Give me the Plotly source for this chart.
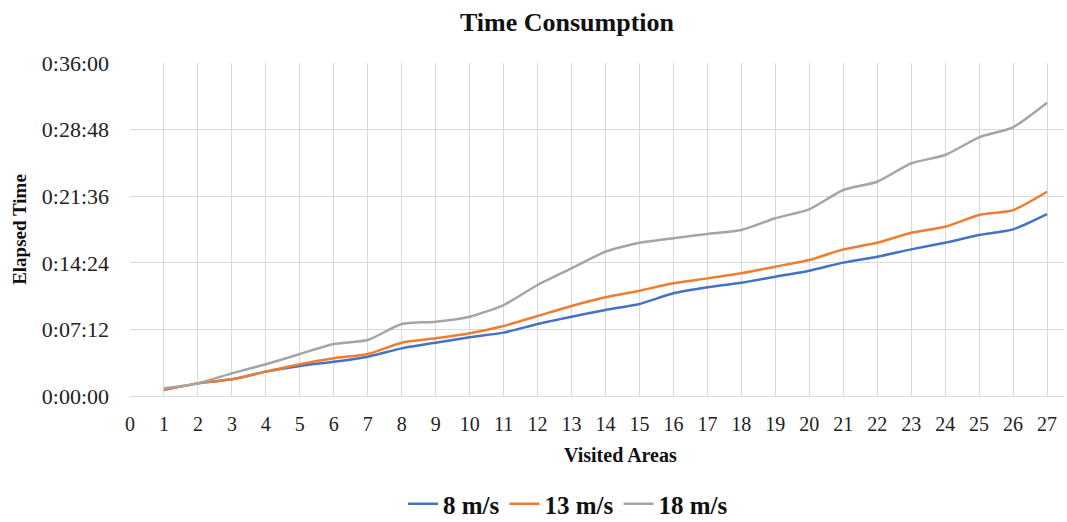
import plotly.graph_objects as go

areas = list(range(1, 28))
speed_8 = [39, 82, 108, 158, 195, 222, 255, 309, 346, 381, 411, 467, 514, 558, 597,
           666, 705, 735, 774, 813, 865, 903, 951, 994, 1044, 1081, 1180]
speed_13 = [39, 82, 108, 158, 206, 245, 272, 346, 374, 407, 454, 519, 584, 640, 683,
            731, 763, 796, 839, 882, 951, 994, 1059, 1098, 1174, 1206, 1325]
speed_18 = [50, 82, 147, 206, 272, 337, 363, 467, 482, 514, 590, 720, 828, 936, 994,
            1023, 1051, 1077, 1153, 1211, 1336, 1390, 1509, 1563, 1678, 1743, 1902]
series_names = ["8 m/s", "13 m/s", "18 m/s"]
colors = ["#4472C4", "#ED7D31", "#A5A5A5"]

y_tick_vals = [0, 432, 864, 1296, 1728, 2160]
y_tick_text = ["0:00:00", "0:07:12", "0:14:24", "0:21:36", "0:28:48", "0:36:00"]
x_tick_vals = list(range(0, 28))

SERIF = "Liberation Serif, Times New Roman, serif"

fig = go.Figure()
for name, vals, col in zip(series_names, [speed_8, speed_13, speed_18], colors):
    fig.add_trace(go.Scatter(
        x=areas, y=vals, name=name, mode="lines",
        line=dict(color=col, width=2.5, shape="spline", smoothing=0.6),
    ))

pl, pr, pt, pb = 130, 1067 - 3, 63, 522 - 126

fig.update_layout(
    width=1067, height=522,
    margin=dict(l=130, r=3, t=63, b=126),
    paper_bgcolor="white", plot_bgcolor="white",
    font=dict(family=SERIF, color="#222222"),
    title=dict(text="<b>Time Consumption</b>", x=567/1067, xanchor="center",
               y=1-22/522, yanchor="middle", xref="container", yref="container",
               font=dict(size=26, family=SERIF, color="#111111")),
    legend=dict(orientation="h", x=568/1067, xanchor="center", xref="container",
                y=18/522, yanchor="middle", yref="container",
                font=dict(size=25, family=SERIF, color="#111111", weight="bold"),
                itemwidth=30, tracegroupgap=0),
    showlegend=True,
    annotations=[dict(text="<b>Visited Areas</b>",
                      x=(620 - pl) / (pr - pl), y=(pb - 455) / (pb - pt),
                      xref="paper", yref="paper", showarrow=False,
                      xanchor="center", yanchor="middle",
                      font=dict(size=20, family=SERIF, color="#111111"))],
)

fig.update_xaxes(
    range=[0, 27.5], tickmode="array", tickvals=x_tick_vals,
    showgrid=True, gridcolor="#D9D9D9", gridwidth=1,
    showline=True, linecolor="#D9D9D9", linewidth=1,
    zeroline=False, ticks="", ticklabelstandoff=10,
    tickfont=dict(size=20, family=SERIF, color="#222222"),
)
fig.update_yaxes(
    range=[0, 2160], tickmode="array", tickvals=y_tick_vals, ticktext=y_tick_text,
    showgrid=True, gridcolor="#D9D9D9", gridwidth=1,
    showline=False, zeroline=False, ticks="", ticklabelstandoff=20,
    tickfont=dict(size=22, family=SERIF, color="#222222"),
    title=dict(text="<b>Elapsed Time</b>", standoff=10,
               font=dict(size=19, family=SERIF, color="#111111")),
)

fig.write_html("out.html")
